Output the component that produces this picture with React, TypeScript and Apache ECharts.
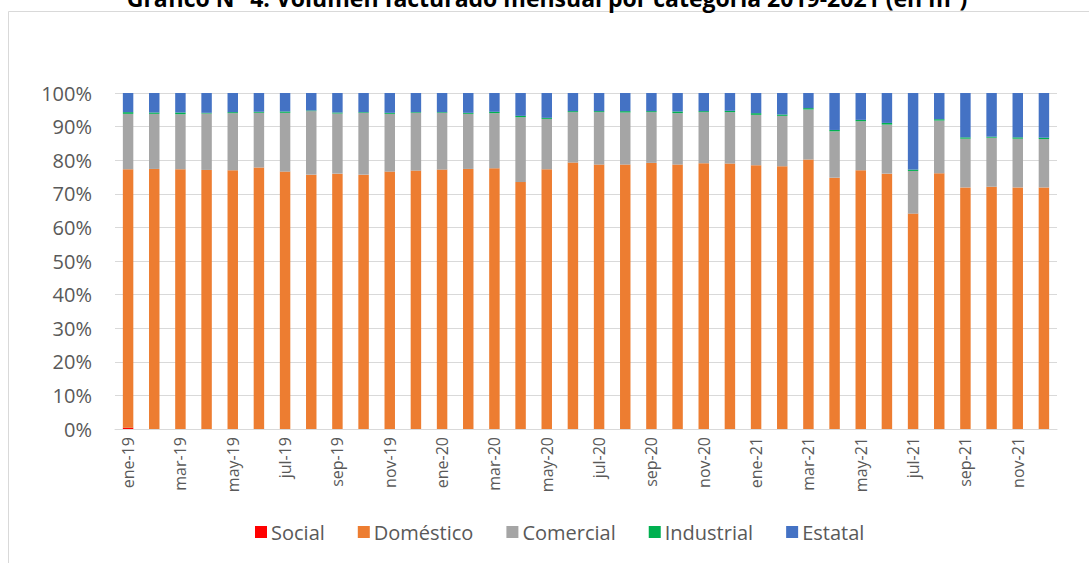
import React, { useEffect, useRef } from "react";
import * as echarts from "echarts";

const months = ["ene", "feb", "mar", "abr", "may", "jun", "jul", "ago", "sep", "oct", "nov", "dic"];
const years = ["19", "20", "21"];
const categories: string[] = years.flatMap((y) => months.map((m) => `${m}-${y}`));

const seriesNames = ["Social", "Doméstico", "Comercial", "Industrial", "Estatal"];
const colors = ["#FF0000", "#ED7D31", "#A5A5A5", "#00B050", "#4472C4"];

const social = [0.4, 0, 0, 0, 0, 0, 0, 0, 0, 0, 0, 0, 0, 0, 0, 0, 0, 0, 0, 0, 0, 0, 0, 0, 0, 0, 0, 0, 0, 0, 0, 0, 0, 0, 0, 0];
const domestico = [
  76.9, 77.4, 77.3, 77.1, 77.0, 77.8, 76.6, 75.7, 76.0, 75.7, 76.6, 76.9,
  77.2, 77.4, 77.6, 73.5, 77.3, 79.3, 78.7, 78.7, 79.2, 78.7, 79.1, 79.0,
  78.5, 78.2, 80.2, 74.8, 77.0, 76.0, 64.1, 76.1, 71.9, 72.1, 71.9, 71.9,
];
const comercial = [
  16.5, 16.4, 16.4, 16.8, 17.0, 16.3, 17.5, 18.9, 17.9, 18.4, 17.2, 17.2,
  16.9, 16.4, 16.4, 19.3, 15.0, 15.0, 15.6, 15.5, 15.1, 15.3, 15.2, 15.3,
  15.0, 15.0, 14.9, 13.8, 14.6, 14.6, 12.7, 15.7, 14.5, 14.6, 14.5, 14.4,
];
const industrial = [
  0.5, 0.4, 0.5, 0.2, 0.3, 0.3, 0.4, 0.2, 0.3, 0.2, 0.3, 0.2,
  0.2, 0.3, 0.4, 0.4, 0.3, 0.3, 0.3, 0.4, 0.3, 0.5, 0.3, 0.4,
  0.5, 0.4, 0.4, 0.4, 0.4, 0.5, 0.4, 0.4, 0.4, 0.3, 0.4, 0.4,
];
const estatal = [
  5.7, 5.8, 5.8, 5.9, 5.7, 5.6, 5.5, 5.2, 5.8, 5.7, 5.9, 5.7,
  5.7, 5.9, 5.6, 6.8, 7.4, 5.4, 5.4, 5.4, 5.4, 5.5, 5.4, 5.3,
  6.0, 6.4, 4.5, 11.0, 8.0, 8.9, 22.8, 7.8, 13.2, 13.0, 13.2, 13.3,
];
const yTicks = { min: 0, max: 100, interval: 10 };

const title = "Gráfico N° 4: Volumen facturado mensual por categoría 2019-2021 (en m³)";

export default function App() {
  const ref = useRef<HTMLDivElement>(null);
  useEffect(() => {
    if (!ref.current) return;
    const chart = echarts.init(ref.current, undefined, { renderer: "svg" });
    const values = [social, domestico, comercial, industrial, estatal];
    const font = "'Open Sans', sans-serif";
    chart.setOption({
      animation: false,
      textStyle: { fontFamily: font },
      graphic: [
        {
          type: "rect",
          shape: { x: 8.5, y: 11.5, width: 1100, height: 600 },
          style: { fill: "none", stroke: "#d9d9d9", lineWidth: 1 },
          silent: true,
        },
        {
          type: "text",
          x: 547,
          y: -2,
          style: {
            text: title,
            font: `bold 23px ${font}`,
            fill: "#000000",
            align: "center",
            verticalAlign: "middle",
          },
        },
      ],
      legend: {
        left: 250,
        top: 517,
        itemWidth: 12,
        itemHeight: 12,
        itemGap: 33,
        icon: "rect",
        data: seriesNames,
        textStyle: { fontSize: 20, color: "#595959", fontFamily: font, padding: [0, 0, 0, -1] },
      },
      grid: { left: 115, right: 32, top: 93, bottom: 134, containLabel: false },
      xAxis: {
        type: "category",
        data: categories,
        axisTick: { show: false },
        axisLine: { lineStyle: { color: "#d9d9d9", width: 1 } },
        axisLabel: {
          interval: 1,
          rotate: 90,
          margin: 8,
          fontSize: 16,
          color: "#595959",
          fontFamily: font,
        },
      },
      yAxis: {
        type: "value",
        min: yTicks.min,
        max: yTicks.max,
        interval: yTicks.interval,
        axisLine: { show: false },
        axisTick: { show: false },
        splitLine: { lineStyle: { color: "#d9d9d9", width: 1 } },
        axisLabel: {
          formatter: "{value}%",
          fontSize: 20,
          color: "#595959",
          margin: 23,
          fontFamily: font,
        },
      },
      series: seriesNames.map((name, i) => ({
        name,
        type: "bar",
        stack: "total",
        barWidth: "40%",
        data: values[i],
        itemStyle: { color: colors[i] },
      })),
    });
    return () => chart.dispose();
  }, []);
  return (
    <div
      ref={ref}
      style={{ position: "fixed", left: 0, top: 0, width: 1089, height: 563, background: "#ffffff" }}
    />
  );
}
